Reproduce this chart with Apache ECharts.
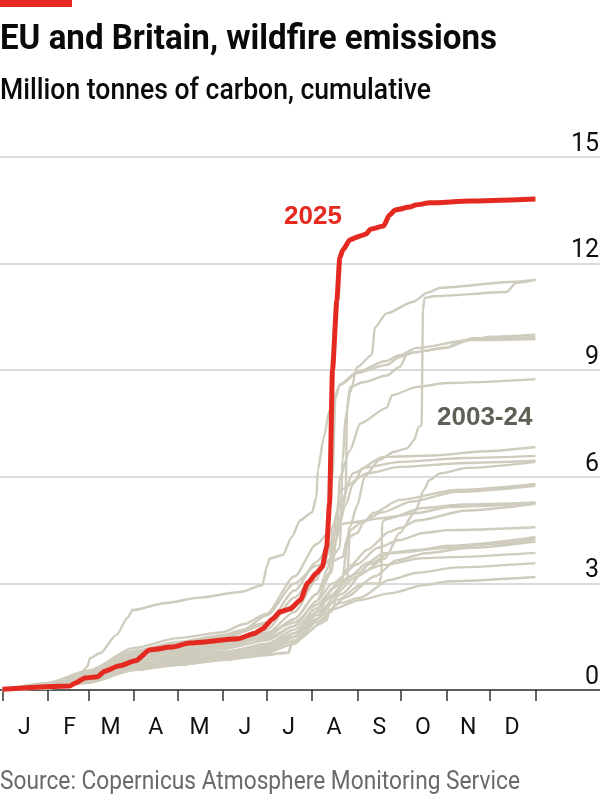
<!DOCTYPE html>
<html><head><meta charset="utf-8">
<style>html,body{margin:0;padding:0;background:#fff}#c{width:600px;height:805px}</style>
<script src="https://cdn.jsdelivr.net/npm/echarts@6/dist/echarts.min.js"></script>
</head><body><div id="c"></div>
<script>
const monthLabels = ['J','F','M','A','M','J','J','A','S','O','N','D'];
const monthMid = [15,46,74,105,135,166,196,227,258,288,319,349];
const monthStart = [0,31,59,90,120,151,181,212,243,273,304,334,365];

const fire2025 = [[0,.02],[46,.11],[50,.2],[56.5,.34],[65,.37],[70,.53],[80,.68],[91,.82],[101,1.13],[116,1.21],[128,1.32],[161,1.44],[173,1.6],[178,1.72],[185,2],[190,2.2],[197,2.28],[204,2.53],[209,3.01],[215,3.29],[219,3.46],[222,4.02],[224,5.26],[226,9],[229,10.97],[231,12.16],[233,12.38],[238,12.67],[245,12.78],[249,12.83],[252,12.97],[261,13.06],[265,13.37],[269,13.51],[279,13.59],[283,13.65],[293,13.71],[320,13.76],[365,13.82]];

const pastA = [[0,0],[25,.1],[40,.2],[52,.38],[58,.65],[60,.9],[67,1.04],[78,1.55],[86,2.05],[89,2.25],[112,2.45],[135,2.6],[163,2.76],[178,2.95],[181,3.46],[183,3.7],[192,3.8],[198,4.3],[204,4.78],[212,5],[215,5.43],[216,6.2],[220,7.1],[224,7.88],[231,8.58],[243,8.92],[263,9.15],[272,9.37],[281,9.5],[304,9.63],[320,9.85],[334,9.94],[365,10]];
const pastB = [[0,0],[31,.12],[59,.4],[90,.9],[120,1.15],[151,1.35],[181,1.7],[200,2.6],[215,3.3],[225,3.7],[231,4],[233,6.5],[235,7.68],[238,8.36],[243,9.09],[253,9.43],[255,10.2],[263,10.6],[281,10.92],[291,11.18],[300,11.32],[350,11.49],[365,11.54]];
const pastC = [[0,0],[31,.08],[59,.3],[90,.65],[120,.85],[151,1],[181,1.2],[200,1.6],[225,2.2],[232,3],[238,4.6],[243,5.2],[248,6],[258,6.47],[268,6.7],[277,6.8],[282,7.04],[285,7.4],[287,7.45],[288,10.7],[289,11.03],[295,11.08],[345,11.2],[352,11.46],[365,11.55]];
const pastD = [[0,0],[31,.15],[59,.45],[90,.95],[120,1.2],[151,1.45],[181,1.85],[200,2.8],[215,3.6],[225,4.1],[232,4.9],[235,5.5],[236,7.96],[238,8.53],[247,8.66],[263,8.85],[272,9.09],[277,9.43],[281,9.5],[304,9.63],[313,9.8],[322,9.9],[365,9.93]];
const pastE = [[0,0],[31,.1],[59,.32],[90,.8],[120,1.05],[151,1.25],[181,1.6],[200,2.2],[215,3.1],[222,4],[226,6],[228,8.2],[231,8.6],[243,8.95],[262,9.25],[272,9.42],[283,9.62],[320,9.85],[365,9.88]];
const pastF = [[0,0],[31,.1],[59,.35],[90,.7],[120,.95],[151,1.15],[181,1.4],[200,1.8],[215,2.5],[225,3.3],[229,4.3],[231,6],[238,6.75],[245,7.5],[263,7.94],[267,8.3],[284,8.53],[304,8.64],[365,8.75]];
const pastG = [[0,0],[31,.2],[59,.55],[90,1.18],[120,1.46],[151,1.63],[165,1.85],[181,2.15],[200,3.2],[215,4.1],[225,4.5],[232,5.3],[240,6.1],[261,6.56],[295,6.6],[330,6.72],[365,6.84]];
const pastH = [[0,0],[31,.14],[59,.48],[90,1.05],[120,1.3],[151,1.5],[181,1.9],[200,2.4],[215,3.2],[228,4.2],[235,5.2],[240,5.8],[247,6.25],[272,6.42],[318,6.53],[365,6.59]];
const pastI = [[0,0],[31,.11],[59,.38],[90,.88],[120,1.1],[151,1.3],[181,1.55],[200,2],[215,2.7],[225,3.6],[229,5],[231,5.63],[250,6.1],[272,6.28],[318,6.39],[365,6.45]];
const pastJ = [[0,0],[31,.06],[59,.24],[90,.6],[120,.75],[151,.9],[181,1.1],[200,1.5],[225,2.6],[243,3.2],[262,3.7],[272,4.42],[282,4.98],[289,5.65],[292,5.9],[300,6.1],[318,6.25],[365,6.42]];
const pastK = [[0,0],[31,.16],[59,.5],[90,1.1],[120,1.35],[151,1.55],[165,1.7],[181,2.1],[200,3],[215,3.5],[224,3.6],[233,3.74],[236,4.28],[243,4.42],[247,4.7],[254,4.98],[272,5.35],[311,5.63],[365,5.8]];
const pastL = [[0,0],[31,.09],[59,.34],[90,.78],[120,1],[151,1.2],[181,1.5],[200,2],[215,2.7],[224,3.3],[226,4.6],[236,4.7],[261,4.84],[284,4.98],[306,5.15],[365,5.26]];
const pastM = [[0,0],[31,.05],[59,.22],[90,.58],[120,.72],[151,.86],[181,1.02],[200,1.6],[215,2.2],[230,2.55],[247,3],[258,3],[259.5,3.2],[260,4.7],[262,4.8],[288,5.12],[315,5.22],[365,5.28]];
const pastN = [[0,0],[31,.07],[59,.28],[90,.68],[120,.88],[151,1.05],[181,1.3],[200,1.7],[215,2.3],[228,2.9],[238,3.5],[250,3.95],[265,4.45],[272,4.56],[284,4.77],[318,5.05],[365,5.24]];
const pastO = [[0,0],[31,.13],[59,.42],[90,.92],[120,1.12],[151,1.32],[181,1.45],[200,1.8],[215,2.5],[226,3],[243,3.54],[257,4],[272,4.22],[288,4.42],[306,4.5],[365,4.58]];
const pastP = [[0,0],[31,.08],[59,.3],[90,.72],[120,.92],[151,1.08],[181,1.25],[200,1.6],[215,2.1],[238,3.2],[250,3.58],[261,3.85],[284,3.94],[306,4.06],[365,4.3]];
const pastQ = [[0,0],[31,.06],[59,.26],[90,.62],[120,.8],[151,.95],[181,1.15],[200,1.5],[215,2],[232,2.7],[252,3.55],[265,3.85],[306,4],[340,4.12],[365,4.25]];
const pastR = [[0,0],[31,.05],[59,.24],[90,.58],[120,.76],[151,.9],[181,1.08],[200,1.4],[215,1.9],[235,2.6],[255,3.2],[270,3.65],[290,3.85],[320,4],[365,4.18]];
const pastS = [[0,0],[31,.07],[59,.26],[90,.6],[120,.78],[151,.92],[181,1.05],[200,1.3],[216,2],[222,2.6],[243,3.29],[261,3.52],[288,3.71],[306,3.74],[365,3.86]];
const pastT = [[0,0],[31,.04],[59,.22],[90,.56],[120,.7],[151,.84],[181,.98],[196,1.05],[198,1.3],[219,1.89],[224,2.25],[231,2.45],[245,2.6],[265,3.1],[284,3.3],[311,3.45],[365,3.57]];
const pastU = [[0,0],[31,.05],[59,.2],[90,.56],[120,.71],[151,.85],[181,1],[196,1.06],[198,1.32],[222,1.96],[224,2.25],[245,2.53],[265,2.72],[290,2.96],[306,3.06],[365,3.18]];
const pastV = [[0,0],[31,.12],[59,.44],[90,1],[120,1.25],[151,1.42],[181,1.62],[200,1.9],[215,2.4],[230,3],[236,3.1],[238,4.5],[247,4.75],[260,5],[280,5.3],[311,5.58],[365,5.75]];
const pastYears = [pastA,pastB,pastC,pastD,pastE,pastF,pastG,pastH,pastI,pastJ,pastK,pastL,pastM,pastN,pastO,pastP,pastQ,pastR,pastS,pastT,pastU,pastV];

const sans = '"Liberation Sans",Arial,sans-serif';
const rob = 'Roboto,sans-serif';
const ctx = document.createElement('canvas').getContext('2d');
function fitted(text, font, fill, top, targetWidth){
  ctx.font = font;
  const sx = targetWidth / ctx.measureText(text).width;
  return {type:'text', x:0, y:top, scaleX:sx, scaleY:1, style:{text, fill, font, x:0, y:0}};
}
const chart = echarts.init(document.getElementById('c'), null, {renderer:'canvas'});
chart.setOption({
  animation:false,
  backgroundColor:'#fff',
  grid:{left:0,right:0,top:157,bottom:115,containLabel:false,outerBoundsMode:'none'},
  xAxis:{type:'value',min:-1.7,max:409.2,
    axisLine:{show:true,onZero:false,lineStyle:{color:'#333',width:1.5}},
    axisTick:{show:true,length:11,inside:false,customValues:monthStart,lineStyle:{color:'#333',width:1.5}},
    axisLabel:{show:true,customValues:monthMid,margin:27,fontFamily:rob,fontSize:23,color:'#111',
      formatter:(v)=>monthLabels[monthMid.indexOf(v)]},
    splitLine:{show:false}},
  yAxis:{type:'value',position:'right',min:0,max:15,interval:3,
    axisLine:{show:false},axisTick:{show:false},
    axisLabel:{inside:true,margin:1,align:'right',verticalAlign:'bottom',padding:[0,0,0,0],
      fontFamily:rob,fontSize:25,color:'#111',showMinLabel:true,showMaxLabel:true},
    splitLine:{show:true,lineStyle:{color:'#cfcfcf',width:1.5}}},
  series:[
    ...pastYears.map((d,i)=>({type:'line',name:'past'+i,data:d,symbol:'none',silent:true,z:3,
      smooth:0.25,smoothMonotone:'x',
      lineStyle:{color:'#cfccbd',width:2.4,join:'round'}})),
    {type:'line',name:'2025',data:fire2025,symbol:'none',silent:true,z:5,smooth:0.2,smoothMonotone:'x',
      lineStyle:{color:'#e42a20',width:5,join:'round'}}
  ],
  graphic:[
    {type:'rect',left:0,top:0,shape:{width:72,height:7},style:{fill:'#e42a20'}},
    fitted('EU and Britain, wildfire emissions','bold 35px '+rob,'#0a0a0a',23,497),
    fitted('Million tonnes of carbon, cumulative','500 29px '+rob,'#0a0a0a',77,431),
    {type:'text',left:284,top:204,style:{text:'2025',fill:'#e42a20',font:'bold 26px '+sans}},
    {type:'text',left:437,top:405,style:{text:'2003-24',fill:'#5f5f55',font:'bold 26px '+sans}},
    fitted('Source: Copernicus Atmosphere Monitoring Service','25px '+rob,'#6a6a6a',770,520)
  ]
});
</script></body></html>
